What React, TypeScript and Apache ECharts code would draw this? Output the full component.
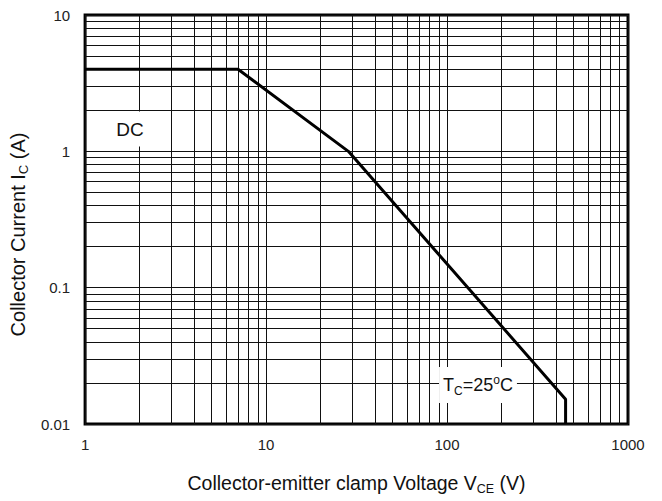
import React, { useEffect, useRef } from "react";
import * as echarts from "echarts";

// Curve: collector-emitter clamp voltage (V) vs collector current (A)
const vceValues = [1, 7, 28.5, 452, 452];
const icValues = [4, 4, 1, 0.0152, 0.01];

const xTickLabels = ["1", "10", "100", "1000"];
const yTickLabels = ["0.01", "0.1", "1", "10"];

const xDecades = [1, 10, 100];
const yDecades = [0.01, 0.1, 1];
const minorMultipliers = [2, 3, 4, 5, 6, 7, 8, 9];

const FONT = "'Liberation Sans', Arial, sans-serif";

export default function App() {
  const ref = useRef<HTMLDivElement>(null);

  useEffect(() => {
    if (!ref.current) return;
    const chart = echarts.init(ref.current, undefined, { renderer: "svg" });

    const xMinor: number[] = [];
    xDecades.forEach((d) => minorMultipliers.forEach((m) => xMinor.push(d * m)));
    const yMinor: number[] = [];
    yDecades.forEach((d) => minorMultipliers.forEach((m) => yMinor.push(d * m)));

    const gridLineData: any[] = [
      ...xMinor.map((v) => ({ xAxis: v })),
      ...yMinor.map((v) => ({ yAxis: v })),
    ];

    const curve = vceValues.map((v, i) => [v, icValues[i]]);

    chart.setOption({
      animation: false,
      textStyle: { fontFamily: FONT },
      grid: {
        left: 84,
        right: 34,
        top: 15,
        bottom: 77,
        show: true,
        borderColor: "#000",
        borderWidth: 3,
        backgroundColor: "#fff",
      },
      xAxis: {
        type: "log",
        logBase: 10,
        min: 1,
        max: 1000,
        axisLine: { show: false },
        axisTick: { show: false },
        splitLine: { show: true, lineStyle: { color: "#111", width: 1 } },
        axisLabel: {
          fontSize: 15,
          color: "#222",
          margin: 13,
          fontFamily: FONT,
          formatter: (v: number) => xTickLabels[Math.round(Math.log10(v))] ?? "",
        },
        name: "{n|Collector-emitter clamp Voltage V}{s|CE}{n| (V)}",
        nameLocation: "middle",
        nameGap: 47,
        nameTextStyle: {
          rich: {
            n: { fontSize: 19.5, color: "#111", fontFamily: FONT },
            s: { fontSize: 12.5, color: "#111", fontFamily: FONT, padding: [11, 0, 0, 0] },
          },
        },
      },
      yAxis: {
        type: "log",
        logBase: 10,
        min: 0.01,
        max: 10,
        axisLine: { show: false },
        axisTick: { show: false },
        splitLine: { show: true, lineStyle: { color: "#111", width: 1 } },
        axisLabel: {
          fontSize: 15,
          color: "#222",
          margin: 15,
          fontFamily: FONT,
          formatter: (v: number) => yTickLabels[Math.round(Math.log10(v)) + 2] ?? "",
        },
        name: "{n|Collector Current I}{s|C}{n| (A)}",
        nameLocation: "middle",
        nameGap: 42,
        nameRotate: 90,
        nameTextStyle: {
          padding: [0, 30, 0, 0],
          rich: {
            n: { fontSize: 20, color: "#111", fontFamily: FONT },
            s: { fontSize: 13, color: "#111", fontFamily: FONT, padding: [11, 0, 0, 0] },
          },
        },
      },
      series: [
        {
          type: "line",
          data: [],
          z: 1,
          silent: true,
          markLine: {
            silent: true,
            symbol: ["none", "none"],
            label: { show: false },
            lineStyle: { color: "#111", width: 1, type: "solid" },
            data: gridLineData,
          },
        },
        {
          type: "line",
          data: curve,
          z: 5,
          symbol: "none",
          lineStyle: { color: "#000", width: 3 },
        },
      ],
      graphic: [
        {
          type: "text",
          z: 100,
          x: 130,
          y: 129,
          style: {
            text: "DC",
            fontSize: 19,
            fontFamily: FONT,
            fill: "#111",
            align: "center",
            verticalAlign: "middle",
            backgroundColor: "#fff",
            padding: [8, 8, 8, 8],
          },
        },
        {
          type: "text",
          z: 100,
          x: 478,
          y: 385,
          style: {
            text: "{n|T}{s|C}{n|=25}{p|o}{n|C}",
            align: "center",
            verticalAlign: "middle",
            backgroundColor: "#fff",
            padding: [6, 4, 6, 4],
            rich: {
              n: { fontSize: 18, fill: "#111", fontFamily: FONT },
              s: { fontSize: 12, fill: "#111", fontFamily: FONT, padding: [12, 0, 0, 0] },
              p: { fontSize: 12, fill: "#111", fontFamily: FONT, padding: [0, 0, 10, 0] },
            },
          },
        },
      ],
    });

    return () => chart.dispose();
  }, []);

  return (
    <div
      ref={ref}
      style={{ position: "fixed", left: 0, top: 0, width: 662, height: 501, background: "#fff" }}
    />
  );
}
